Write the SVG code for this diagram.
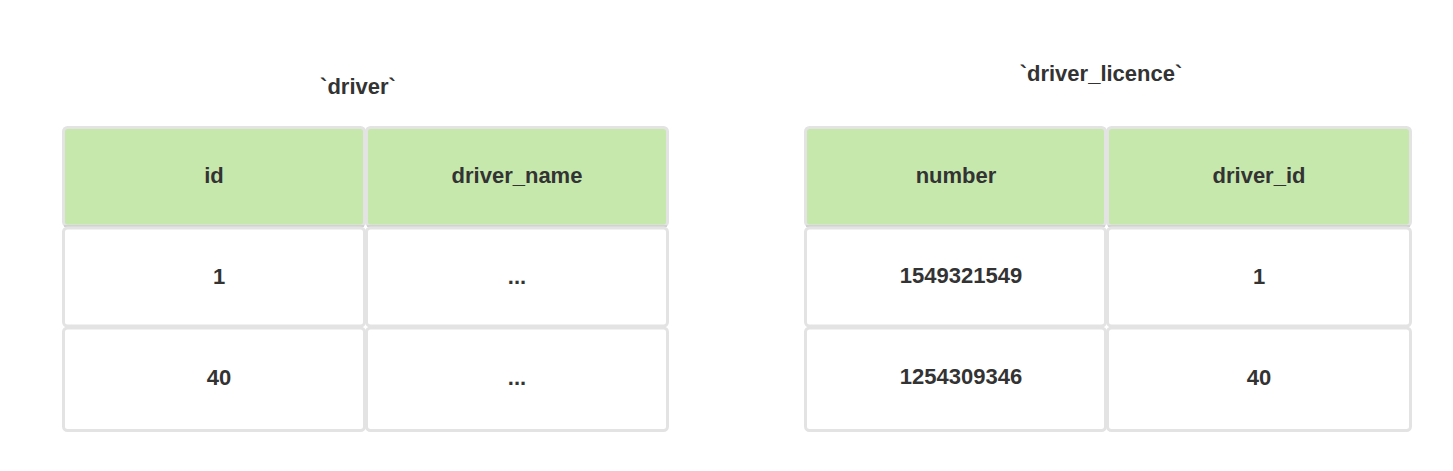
<svg xmlns="http://www.w3.org/2000/svg" width="1453" height="471" viewBox="0 0 1453 471">
<style>
.cell{fill:#ffffff;stroke:#e3e3e3;stroke-width:3}
.head{fill:#c7e8ad;stroke:#e3e3e3;stroke-width:3}
.sep{stroke:#d2d2d2;stroke-width:2}
text{font-family:"Liberation Sans",Arial,sans-serif;font-weight:bold;font-size:22px;fill:#333333;text-anchor:middle}
</style>
<rect width="1453" height="471" fill="#ffffff"/>
<g id="driver">
  <text x="358" y="94">`driver`</text>
  <g id="driver-id-head"><rect class="head" x="63.5" y="127.5" width="301" height="98.5" rx="4"/><line class="sep" x1="64" y1="226" x2="364" y2="226"/><text x="214" y="182.5">id</text></g>
  <g id="driver-name-head"><rect class="head" x="366.5" y="127.5" width="301" height="98.5" rx="4"/><line class="sep" x1="367" y1="226" x2="667" y2="226"/><text x="517" y="182.5">driver_name</text></g>
  <g id="driver-r1c1"><rect class="cell" x="63.5" y="228" width="301" height="98" rx="4"/><text x="219" y="283.5">1</text></g>
  <g id="driver-r1c2"><rect class="cell" x="366.5" y="228" width="301" height="98" rx="4"/><text x="517" y="283.5">...</text></g>
  <g id="driver-r2c1"><rect class="cell" x="63.5" y="328" width="301" height="102.5" rx="4"/><text x="219" y="384.5">40</text></g>
  <g id="driver-r2c2"><rect class="cell" x="366.5" y="328" width="301" height="102.5" rx="4"/><text x="517" y="384.5">...</text></g>
</g>
<g id="driver_licence">
  <text x="1101" y="81">`driver_licence`</text>
  <g id="licence-number-head"><rect class="head" x="805.5" y="127.5" width="300" height="98.5" rx="4"/><line class="sep" x1="806" y1="226" x2="1105" y2="226"/><text x="956" y="182.5">number</text></g>
  <g id="licence-driver-id-head"><rect class="head" x="1107.5" y="127.5" width="303" height="98.5" rx="4"/><line class="sep" x1="1108" y1="226" x2="1410" y2="226"/><text x="1259" y="182.5">driver_id</text></g>
  <g id="licence-r1c1"><rect class="cell" x="805.5" y="228" width="300" height="98" rx="4"/><text x="961" y="283">1549321549</text></g>
  <g id="licence-r1c2"><rect class="cell" x="1107.5" y="228" width="303" height="98" rx="4"/><text x="1259" y="283.5">1</text></g>
  <g id="licence-r2c1"><rect class="cell" x="805.5" y="328" width="300" height="102.5" rx="4"/><text x="961" y="384">1254309346</text></g>
  <g id="licence-r2c2"><rect class="cell" x="1107.5" y="328" width="303" height="102.5" rx="4"/><text x="1259" y="384.5">40</text></g>
</g>
<g id="connectors"></g>
</svg>
